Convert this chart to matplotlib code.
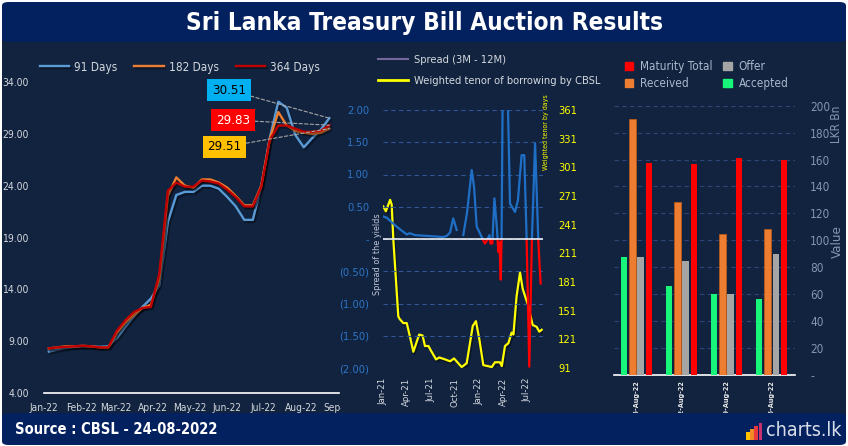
import numpy as np
import pandas as pd
import matplotlib
matplotlib.use("Agg")
import matplotlib.pyplot as plt
import matplotlib.dates as mdates
import matplotlib.patheffects as pe
from matplotlib import font_manager
from matplotlib.patches import FancyBboxPatch, Rectangle, Patch
from matplotlib.lines import Line2D
from matplotlib.transforms import Bbox, TransformedBbox

# ---------------- data ----------------
# weekly T-bill auction yields (%), 2022
auction_dates = pd.date_range("2022-01-05", "2022-08-24", freq="7D")
yield_91 = [8.0, 8.2, 8.35, 8.45, 8.5, 8.5, 8.45, 8.5, 9.3, 10.4, 11.4, 12.3, 13.1, 14.4, 20.5,
            23.1, 23.4, 23.4, 24.0, 24.0, 23.7, 22.9, 22.0, 20.7, 20.7, 24.0, 28.6, 32.1, 31.5,
            28.9, 27.7, 28.6, 29.4, 30.51]
yield_182 = [8.3, 8.4, 8.5, 8.5, 8.55, 8.5, 8.4, 8.4, 9.8, 10.8, 11.5, 12.2, 12.5, 15.0, 23.0,
             24.8, 24.0, 23.8, 24.6, 24.6, 24.3, 23.8, 23.0, 22.1, 22.1, 24.0, 28.5, 31.1, 29.8,
             29.3, 29.1, 29.0, 29.1, 29.51]
yield_364 = [8.3, 8.4, 8.45, 8.5, 8.55, 8.5, 8.4, 8.4, 10.0, 11.0, 11.8, 12.2, 12.3, 15.5, 23.5,
             24.3, 23.9, 23.9, 24.5, 24.4, 24.2, 23.6, 22.9, 22.0, 22.0, 23.9, 28.4, 29.8, 29.8,
             29.5, 29.2, 29.2, 29.3, 29.83]
month_ticks = pd.date_range("2022-01-01", "2022-09-01", freq="MS")

# spread 3M - 12M (days since 1-Jan-2021)
spread_day = [0, 14, 52, 90, 102, 121, 159, 197, 227, 242, 254, 266, 279, 285, 304, 318, 336,
              345, 355, 367, 375, 386, 394, 403, 407, 414, 422, 431, 437, 441, 446, 449, 454,
              471, 481, 500, 511, 525, 535, 544, 554, 564, 576, 588, 593, 597]
spread_val = [0.35, 0.33, 0.19, 0.07, 0.09, 0.06, 0.05, 0.04, 0.03, 0.05, 0.10, 0.32, 0.14,
              np.nan, 0.06, 0.40, 1.07, 0.80, 0.19, 0.09, 0.02, -0.07, -0.02, 0.06, -0.07,
              -0.07, 0.63, 0.19, -0.20, -0.05, -0.63, 0.00, 2.60, 2.50, 0.55, 0.42, 0.60, 1.30,
              1.30, 0.00, -1.98, 0.00, 1.48, 0.00, -0.40, -0.69]
# weighted tenor of borrowing by CBSL (days)
tenor_day = [1, 11, 27, 33, 39, 58, 64, 77, 90, 102, 115, 137, 150, 159, 172, 184, 201, 213,
             235, 254, 269, 285, 298, 317, 340, 352, 365, 380, 412, 424, 443, 450, 462, 475,
             487, 494, 506, 519, 529, 550, 567, 582, 592, 601]
tenor_val = [260, 255, 267, 262, 226, 145, 142, 138, 138, 124, 108, 126, 125, 114, 114, 108,
             100, 102, 100, 98, 101, 96, 92, 96, 135, 140, 121, 94, 92, 97, 97, 93, 114, 117,
             128, 126, 166, 191, 174, 156, 136, 134, 129, 131]
quarter_ticks = [0, 90, 181, 273, 365, 455, 546]
quarter_labels = ["Jan-21", "Apr-21", "Jul-21", "Oct-21", "Jan-22", "Apr-22", "Jul-22"]
spread_ticks = [-2, -1.5, -1, -0.5, 0, 0.5, 1, 1.5, 2]
spread_labels = ["(2.00)", "(1.50)", "(1.00)", "(0.50)", "-", "0.50", "1.00", "1.50", "2.00"]
tenor_ticks = [91, 121, 151, 181, 211, 241, 271, 301, 331, 361]

# August auctions, LKR Bn
auctions = ["05-Aug-22", "12-Aug-22", "19-Aug-22", "26-Aug-22"]
accepted = [87.5, 66.2, 60.2, 56.5]
received = [190.1, 128.4, 104.8, 108.6]
offer = [87.5, 84.8, 60.2, 90.0]
maturity = [157.4, 156.6, 161.3, 159.9]
value_ticks = [0, 20, 40, 60, 80, 100, 120, 140, 160, 180, 200]

# ---------------- style ----------------
avail = {f.name for f in font_manager.fontManager.ttflist}
FONT = "Liberation Sans Narrow" if "Liberation Sans Narrow" in avail else "DejaVu Sans"
plt.rcParams["font.family"] = [FONT, "DejaVu Sans"]
plt.rcParams["font.stretch"] = "condensed"

BODY = "#11233f"
NAVY = "#03205f"
GREY = "#d4d8de"

W, H = 848, 446


def fx(px):
    return px / W


def fy(py):
    return 1 - py / H


def box(l, t, r, b):
    return [fx(l), fy(b), fx(r) - fx(l), fy(t) - fy(b)]


fig = plt.figure(figsize=(8.48, 4.46), dpi=100, facecolor="white")

fig.patches.append(FancyBboxPatch((fx(2), fy(440)), fx(846) - fx(2), fy(8) - fy(440),
                                  boxstyle="round,pad=0,rounding_size=0.008",
                                  transform=fig.transFigure, fc=BODY, ec="none", zorder=-10))
fig.patches.append(FancyBboxPatch((fx(2), fy(42)), fx(846) - fx(2), fy(2) - fy(42),
                                  boxstyle="round,pad=0,rounding_size=0.008",
                                  transform=fig.transFigure, fc=NAVY, ec="none", zorder=-9))
fig.patches.append(FancyBboxPatch((fx(2), fy(445)), fx(846) - fx(2), fy(413) - fy(445),
                                  boxstyle="round,pad=0,rounding_size=0.008",
                                  transform=fig.transFigure, fc=NAVY, ec="none", zorder=5))

fig.text(0.5, fy(23), "Sri Lanka Treasury Bill Auction Results", ha="center", va="center",
         color="white", fontsize=17.5, fontweight="bold", zorder=2)
fig.text(fx(15), fy(430), "Source : CBSL - 24-08-2022", ha="left", va="center",
         color="white", fontsize=10.5, fontweight="bold", zorder=6)
fig.text(fx(766), fy(431), "charts.lk", ha="left", va="center", color="#d8dee9",
         fontsize=14, zorder=6)
for i, c in enumerate(["#ffc000", "#f08a24", "#e8383d", "#c8306e"]):
    fig.patches.append(Rectangle((fx(746 + i * 4.2), fy(440)), fx(3.6), (8 + i * 3) / H,
                                 transform=fig.transFigure, fc=c, ec="none", zorder=6))

# ---------------- left: yields ----------------
ax1 = fig.add_axes(box(44, 82, 339, 393))
ax1.set_facecolor("none")
shadow = [pe.SimpleLineShadow(offset=(1.2, -1.5), shadow_color="black", alpha=0.35), pe.Normal()]
ax1.plot(auction_dates, yield_91, color="#5b9bd5", lw=1.7, label="91 Days", path_effects=shadow)
ax1.plot(auction_dates, yield_182, color="#ed7d31", lw=1.7, label="182 Days", path_effects=shadow)
ax1.plot(auction_dates, yield_364, color="#c00000", lw=1.7, label="364 Days", path_effects=shadow)
ax1.set_ylim(4, 34)
ax1.set_yticks(np.arange(4, 35, 5))
ax1.yaxis.set_major_formatter(matplotlib.ticker.FormatStrFormatter("%.2f"))
ax1.set_xlim(month_ticks[0], month_ticks[-1])
ax1.set_xticks(month_ticks)
ax1.xaxis.set_major_formatter(mdates.DateFormatter("%b-%y"))
ax1.tick_params(length=0, colors=GREY)
ax1.tick_params(axis="y", pad=11, labelsize=7.5)
ax1.tick_params(axis="x", pad=7, labelsize=7.3)
for s in ["top", "right", "left"]:
    ax1.spines[s].set_visible(False)
ax1.spines["bottom"].set_color("white")
ax1.spines["bottom"].set_linewidth(1.2)
ax1.legend(loc="center", bbox_to_anchor=(fx(180), fy(67)), bbox_transform=fig.transFigure,
           ncol=3, frameon=False, fontsize=8.5, labelcolor=GREY, handlelength=2.5,
           handletextpad=0.45, columnspacing=1.4, borderpad=0, borderaxespad=0)

for vals, pos, fc, tc in [(yield_91, (229, H - 90), "#00b0f0", "black"),
                          (yield_364, (233, H - 120), "#ff0000", "white"),
                          (yield_182, (224.5, H - 147), "#ffc000", "black")]:
    ax1.annotate(f"{vals[-1]:.2f}", xy=(auction_dates[-1], vals[-1]), xytext=pos,
                 textcoords="figure pixels", ha="center", va="center", fontsize=9.5,
                 color=tc, bbox=dict(boxstyle="square,pad=0.35", fc=fc, ec="none"),
                 arrowprops=dict(arrowstyle="-", ls=(0, (3, 2)), color="#a6a6a6", lw=0.8,
                                 shrinkA=0, shrinkB=0))

# ---------------- middle: spread & tenor ----------------
ax2 = fig.add_axes(box(383, 110, 543, 368))
axr = ax2.twinx()
ax2.set_zorder(axr.get_zorder() + 1)
ax2.patch.set_visible(False)
axr.patch.set_visible(False)

axr.plot(tenor_day, tenor_val, color="#ffff00", lw=1.6,
         path_effects=[pe.SimpleLineShadow(offset=(1, -1.5), shadow_color="black", alpha=0.4),
                       pe.Normal()])
axr.set_ylim(91, 361)
axr.set_yticks(tenor_ticks)
axr.tick_params(length=0, labelsize=8, colors="#ffff00", pad=11)

ln_pos, = ax2.plot(spread_day, spread_val, color="#1f6fc6", lw=1.6)
ln_neg, = ax2.plot(spread_day, spread_val, color="#ff0000", lw=1.6)
ln_pos.set_clip_path(Rectangle((0, 0), 606, 2, transform=ax2.transData))
ln_neg.set_clip_path(Rectangle((0, -2), 606, 2, transform=ax2.transData))
ax2.set_xlim(0, 606)
ax2.set_ylim(-2, 2)
ax2.set_yticks(spread_ticks)
ax2.set_yticklabels(spread_labels)
ax2.yaxis.grid(True, color="#2f5597", ls=(0, (4, 3)), lw=0.8)
ax2.axhline(0, color="white", lw=1.1)
ax2.set_xticks(quarter_ticks)
ax2.set_xticklabels(quarter_labels, rotation=90)
ax2.tick_params(axis="y", length=0, labelsize=8, colors="#2e75c6", pad=10)
ax2.tick_params(axis="x", length=0, labelsize=6.8, colors=GREY, pad=7)
for a in (ax2, axr):
    for s in a.spines.values():
        s.set_visible(False)
fig.text(fx(378), fy(254), "Spread of the yields", rotation=90, ha="center", va="center",
         color="#c0c8d8", fontsize=6.5)
fig.text(fx(546), fy(132), "Weighted tenor by days", rotation=90, ha="center", va="center",
         color="#ffff00", fontsize=5)
ax2.legend(handles=[Line2D([], [], color="#76679a", lw=1.5), Line2D([], [], color="#ffff00", lw=2)],
           labels=["Spread (3M - 12M)", "Weighted tenor of borrowing by CBSL"],
           loc="upper left", bbox_to_anchor=(fx(378), fy(55)), bbox_transform=fig.transFigure,
           frameon=False, fontsize=8, labelcolor=GREY, handlelength=2.7, handletextpad=0.5,
           labelspacing=1.0, borderpad=0, borderaxespad=0)

# ---------------- right: auction bars ----------------
ax3 = fig.add_axes(box(614, 105.7, 795, 375))
ax3.set_facecolor("none")
x = np.arange(len(auctions))
bw = 0.145
ax3.bar(x - 0.278, accepted, bw, color="#17f57a", label="Accepted", zorder=3)
ax3.bar(x - 0.093, received, bw, color="#ed7d31", edgecolor="#b85a1c", lw=0.6,
        label="Received", zorder=3)
ax3.bar(x + 0.093, offer, bw, color="#a5a5a5", label="Offer", zorder=3)
ax3.bar(x + 0.278, maturity, bw, color="#ff0000", label="Maturity Total", zorder=3)
ax3.set_ylim(0, 200)
ax3.set_xlim(-0.5, 3.52)
ax3.set_yticks(value_ticks)
ax3.set_yticklabels(["-"] + [str(v) for v in value_ticks[1:]])
ax3.yaxis.tick_right()
ax3.yaxis.grid(True, color="#2b4677", ls=(0, (4, 3)), lw=0.8, zorder=0)
ax3.set_axisbelow(True)
ax3.set_xticks(x)
ax3.set_xticklabels(auctions, rotation=90, fontweight="bold")
ax3.tick_params(axis="y", length=0, labelsize=8.5, colors="#8497b0", pad=11)
ax3.tick_params(axis="x", length=0, labelsize=5.2, colors="#e8e8e8", pad=4)
for s in ["top", "right", "left"]:
    ax3.spines[s].set_visible(False)
ax3.spines["bottom"].set_color("white")
ax3.spines["bottom"].set_linewidth(1.2)
fig.text(fx(837), fy(124), "LKR Bn", rotation=90, ha="center", va="center",
         color="#8497b0", fontsize=8.5)
fig.text(fx(837), fy(242), "Value", rotation=90, ha="center", va="center",
         color="#8497b0", fontsize=9.5)
h, l = ax3.get_legend_handles_labels()
order = [3, 1, 2, 0]
ax3.legend([Patch(color=h[i].patches[0].get_facecolor()) for i in order], [l[i] for i in order],
           ncol=2, loc="upper left", bbox_to_anchor=(fx(625), fy(60)),
           bbox_transform=fig.transFigure, frameon=False, fontsize=8.5, labelcolor="#aab8cc",
           handlelength=0.7, handleheight=0.7, handletextpad=0.6, columnspacing=0.9,
           labelspacing=0.35, borderpad=0, borderaxespad=0)

# clip the cut-off last month label at the panel edge
fig.canvas.draw()
clip = TransformedBbox(Bbox([[0, 0], [fx(341), 1]]), fig.transFigure)
for lbl in ax1.get_xticklabels():
    lbl.set_clip_box(clip)
    lbl.set_clip_on(True)

fig.savefig("out.png", dpi=100, facecolor="white")
